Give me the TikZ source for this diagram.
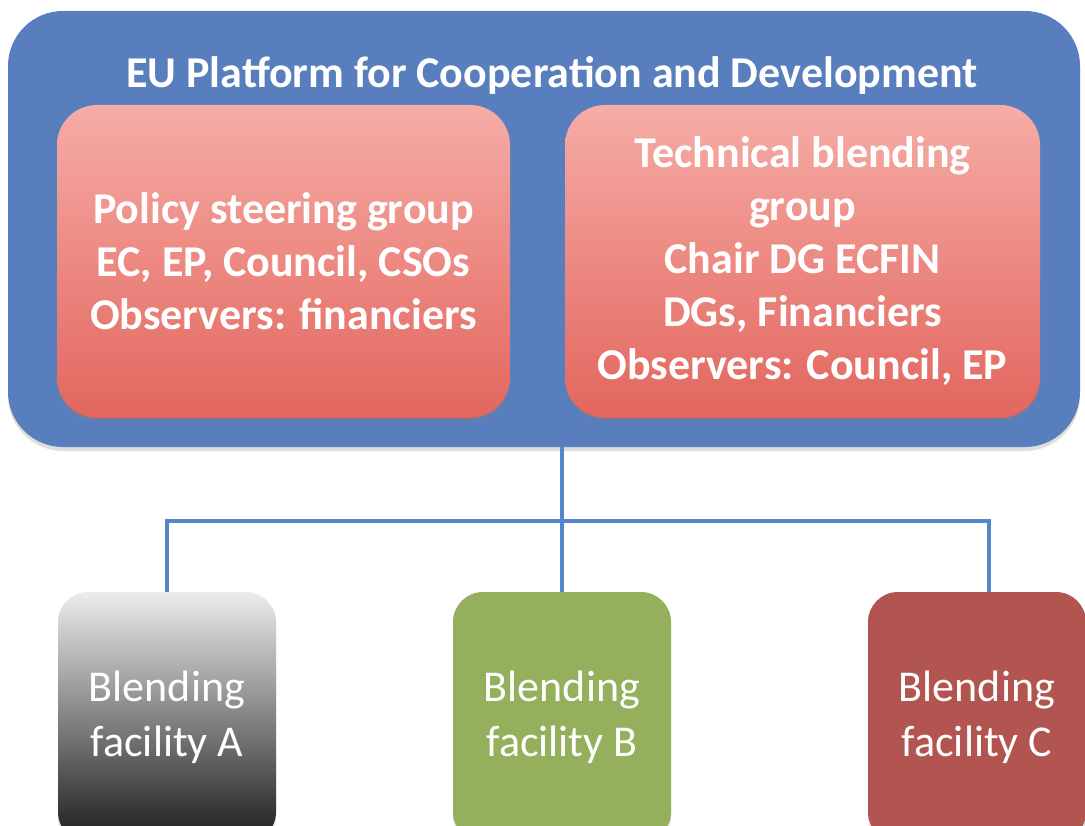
\documentclass[tikz,border=0pt]{standalone}
\usepackage{fontspec}
\setmainfont{Carlito}
\usetikzlibrary{shadows}
\definecolor{platblue}{RGB}{88,126,190}
\definecolor{linkblue}{RGB}{84,134,204}
\definecolor{redtop}{RGB}{246,172,166}
\definecolor{redbot}{RGB}{226,102,94}
\definecolor{grtop}{RGB}{236,236,236}
\definecolor{grbot}{RGB}{28,28,28}
\definecolor{olive}{RGB}{148,176,92}
\definecolor{brick}{RGB}{178,84,80}
\tikzset{
  platform/.style={draw=none, fill=platblue, rounded corners=55pt, minimum width=1072pt, minimum height=436pt,
    drop shadow={shadow xshift=0pt, shadow yshift=-4pt, opacity=0.25}},
  groupbox/.style={draw=none, rounded corners=40pt, top color=redtop, bottom color=redbot,
    text=white, align=center, font=\fontsize{44}{53}\selectfont\bfseries, minimum height=313pt,
    drop shadow={shadow xshift=0pt, shadow yshift=-4pt, opacity=0.25}},
  facility/.style={draw=none, rounded corners=30pt, text=white, align=center,
    font=\fontsize{44}{55}\selectfont, minimum width=218pt, minimum height=250pt,
    drop shadow={shadow xshift=0pt, shadow yshift=-4pt, opacity=0.25}},
  link/.style={draw=linkblue, line width=4pt},
  titletext/.style={text=white, font=\fontsize{44}{50}\selectfont\bfseries}
}
\begin{document}
\begin{tikzpicture}[x=1pt,y=1pt]
\useasboundingbox (0,0) rectangle (1085,-826);
\clip (0,0) rectangle (1085,-826);
\fill[white] (0,0) rectangle (1085,-826);
\node[platform] (P) at (544,-229) {};
\node[titletext] (T) at (552,-75) {EU Platform for Cooperation and Development};
\node[groupbox, minimum width=453pt] (L) at (283.5,-261.5) {Policy steering group\\EC, EP, Council, CSOs\\Observers: financiers};
\node[groupbox, minimum width=475pt] (R) at (802.5,-261.5) {Technical blending\\group\\Chair DG ECFIN\\DGs, Financiers\\Observers: Council, EP};
\node[facility, top color=grtop, bottom color=grbot] (A) at (167,-717) {Blending\\facility A};
\node[facility, fill=olive] (B) at (562,-717) {Blending\\facility B};
\node[facility, fill=brick] (C) at (977,-717) {Blending\\facility C};
\coordinate (hub) at (562,-521);
\coordinate (ctop) at ([xshift=12pt]C.north);
\draw[link] (B.north |- P.south) -- (B.north);
\draw[link] (A.north) -- (A.north |- hub) -- (hub -| ctop) -- (ctop);
\end{tikzpicture}
\end{document}
